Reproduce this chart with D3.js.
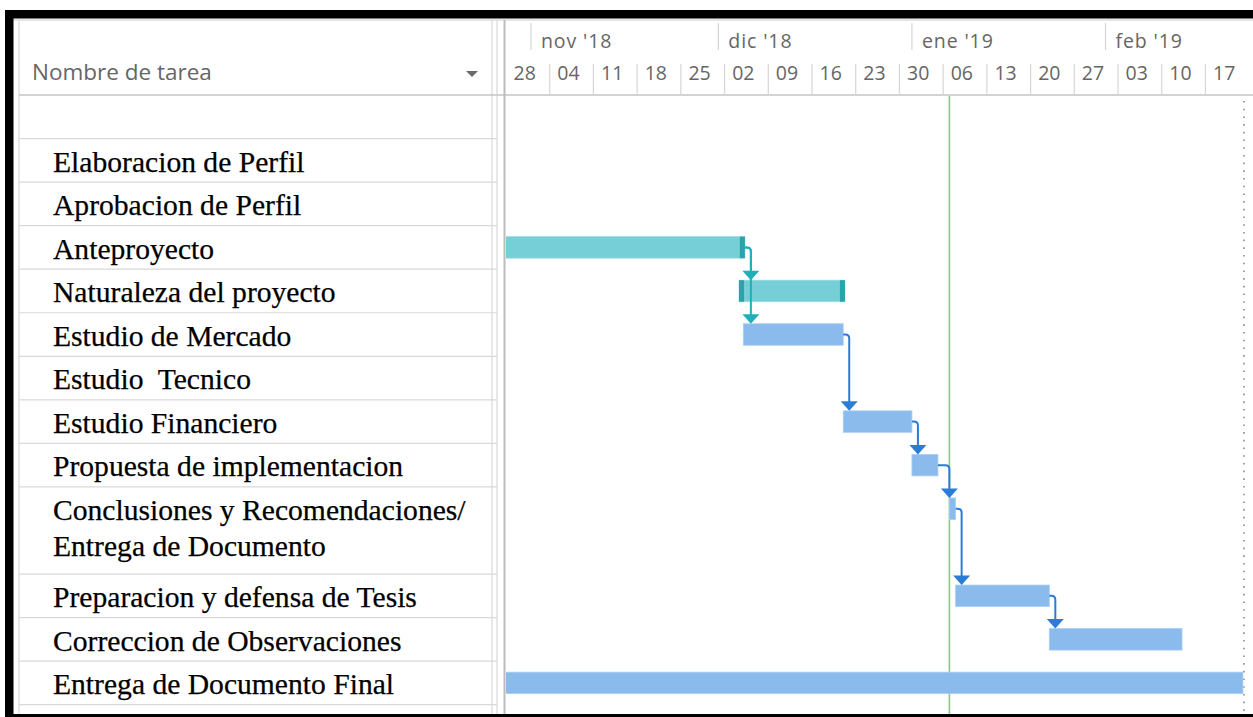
<!DOCTYPE html>
<html>
<head>
<meta charset="utf-8">
<script src="https://cdn.jsdelivr.net/npm/d3@7/dist/d3.min.js"></script>
<style>
  body { margin: 0; background: #fff; }
  svg { display: block; }
  .task { font-family: "Liberation Serif", "Times New Roman", serif; font-size: 29.6px; fill: #000; stroke: #000; stroke-width: 0.25; white-space: pre; }
  .hdr { font-family: "Open Sans", "Noto Sans", sans-serif; fill: #666; }
</style>
</head>
<body>
<svg id="gantt" width="1253" height="717"></svg>
<script>
// task table (first row of the sheet is empty)
const taskNames = [
    "",
    "Elaboracion de Perfil",
    "Aprobacion de Perfil",
    "Anteproyecto",
    "Naturaleza del proyecto",
    "Estudio de Mercado",
    "Estudio  Tecnico",
    "Estudio Financiero",
    "Propuesta de implementacion",
    "Conclusiones y Recomendaciones/\nEntrega de Documento",
    "Preparacion y defensa de Tesis",
    "Correccion de Observaciones",
    "Entrega de Documento Final",
    ""
];
const taskStarts = [null, null, null, "2018-10-15T00:00", "2018-12-04T07:30", "2018-12-05T00:00", null,
    "2018-12-21T00:00", "2019-01-01T00:00", "2019-01-07T00:00", "2019-01-08T00:00", "2019-01-23T00:00",
    "2018-10-01T00:00", null];
const taskEnds = [null, null, null, "2018-12-05T06:00", "2018-12-21T06:30", "2018-12-21T00:00", null,
    "2019-01-01T00:00", "2019-01-05T04:00", "2019-01-08T00:00", "2019-01-23T00:00", "2019-02-13T06:00",
    "2019-02-23T00:00", null];
const taskManual = [false, false, false, true, true, false, false, false, false, false, false, false, false, false];
const rowSpans = [1, 1, 1, 1, 1, 1, 1, 1, 1, 2, 1, 1, 1, 1];

// finish-to-start links: [from, to]
const links = [[3, 4], [3, 5], [5, 7], [7, 8], [8, 9], [9, 10], [10, 11]];

const timelineStart = "2018-10-28";
const timelineEnd = "2019-02-24";
const statusDate = "2019-01-07T00:00";
const projectFinish = "2019-02-23T00:00";

const W = 1253, H = 717;
const chartLeft = 506;
const headerTop = 20, headerBottom = 95;
const rowH = 43.55;

const parse = d3.isoParse;
const svg = d3.select("#gantt");

const x = d3.scaleTime()
    .domain([parse(timelineStart), parse(timelineEnd)])
    .range([chartLeft, chartLeft + 119 * 6.245]);

// row positions from cumulative spans
const rowStart = [];
rowSpans.reduce((acc, s, i) => { rowStart[i] = acc; return acc + s; }, 0);
const y = d3.scaleLinear().domain([0, 1]).range([headerBottom, headerBottom + rowH]);

svg.append("rect").attr("x", 0).attr("y", 0).attr("width", W).attr("height", H).attr("fill", "#fff");

// ---------- left table ----------
const grid = svg.append("g").attr("stroke", "#d9d9d9").attr("stroke-width", 1.2);
rowSpans.forEach((s, i) => {
    const yy = y(rowStart[i] + s);
    grid.append("line").attr("x1", 19).attr("x2", 497).attr("y1", yy).attr("y2", yy);
});
grid.append("line").attr("x1", 19).attr("x2", 19).attr("y1", headerTop).attr("y2", H);
grid.append("line").attr("x1", 492).attr("x2", 492).attr("y1", headerTop).attr("y2", H);
grid.append("line").attr("x1", 497).attr("x2", 497).attr("y1", headerTop).attr("y2", H);

svg.append("line").attr("x1", 13).attr("x2", W).attr("y1", headerTop).attr("y2", headerTop)
    .attr("stroke", "#dcdcdc").attr("stroke-width", 1.5);
svg.append("line").attr("x1", 19).attr("x2", W).attr("y1", headerBottom).attr("y2", headerBottom)
    .attr("stroke", "#c4c4c4").attr("stroke-width", 1.5);
svg.append("line").attr("x1", 504.5).attr("x2", 504.5).attr("y1", headerTop).attr("y2", H)
    .attr("stroke", "#bcbcbc").attr("stroke-width", 2);

svg.append("text").attr("class", "hdr").attr("x", 32).attr("y", 80)
    .style("font-size", "22.5px").text("Nombre de tarea");
svg.append("path").attr("d", "M466,71 L478,71 L472,77 Z").attr("fill", "#6a6a6a");

const labels = svg.append("g");
taskNames.forEach((name, i) => {
    if (!name) return;
    const t = labels.append("text").attr("class", "task").attr("x", 53);
    name.split("\n").forEach((line, k) => {
        t.append("tspan").attr("x", 53).attr("y", y(rowStart[i]) + 33 + k * 36).text(line);
    });
});

// ---------- timescale header ----------
const months = d3.timeMonth.range(d3.timeMonth.ceil(x.domain()[0]), x.domain()[1]);
const fmtMonth = d => ["ene", "feb", "mar", "abr", "may", "jun", "jul", "ago", "sep", "oct", "nov", "dic"][d.getMonth()]
    + " '" + d3.timeFormat("%y")(d);
const mh = svg.append("g");
months.forEach(m => {
    mh.append("line").attr("x1", x(m)).attr("x2", x(m)).attr("y1", 23).attr("y2", 50)
        .attr("stroke", "#d6d6d6").attr("stroke-width", 1.2);
    mh.append("text").attr("class", "hdr").attr("x", x(m) + 10).attr("y", 48)
        .style("font-size", "19.5px").style("letter-spacing", "0.9px").text(fmtMonth(m));
});

const weeks = d3.timeSunday.range(x.domain()[0], x.domain()[1]);
const wh = svg.append("g");
weeks.forEach(w => {
    if (x(w) > chartLeft + 1) {
        wh.append("line").attr("x1", x(w)).attr("x2", x(w)).attr("y1", 64).attr("y2", headerBottom)
            .attr("stroke", "#d6d6d6").attr("stroke-width", 1.2);
    }
    wh.append("text").attr("class", "hdr").attr("x", x(d3.timeDay.offset(w, 3.5)))
        .attr("y", 80).attr("text-anchor", "middle")
        .style("font-size", "19.5px").text(d3.timeFormat("%d")(w));
});

// ---------- chart body ----------
svg.append("clipPath").attr("id", "body").append("rect")
    .attr("x", chartLeft).attr("y", headerBottom + 1).attr("width", W - chartLeft).attr("height", H - headerBottom);
const body = svg.append("g").attr("clip-path", "url(#body)");

body.append("line").attr("x1", x(parse(statusDate))).attr("x2", x(parse(statusDate)))
    .attr("y1", headerBottom).attr("y2", H).attr("stroke", "#8cc68a").attr("stroke-width", 1.6);
body.append("line").attr("x1", x(parse(projectFinish)) + 1).attr("x2", x(parse(projectFinish)) + 1)
    .attr("y1", 101).attr("y2", H).attr("stroke", "#8c8c8c").attr("stroke-width", 1.6)
    .attr("stroke-dasharray", "1.6,6.1");

const barTop = i => y(rowStart[i]) + 11;
const barH = 21.5;
const bars = body.append("g");
taskNames.forEach((n, i) => {
    if (!taskStarts[i]) return;
    const x0 = x(parse(taskStarts[i])), x1 = x(parse(taskEnds[i]));
    bars.append("rect").attr("x", x0).attr("y", barTop(i)).attr("width", x1 - x0).attr("height", barH)
        .attr("fill", taskManual[i] ? "#76ced6" : "#8abbec")
        .attr("stroke", taskManual[i] ? "#9adbe1" : "#a9cff3").attr("stroke-width", 0.8);
    if (taskManual[i]) {
        [x0, x1 - 5].forEach(cx => bars.append("rect").attr("x", cx).attr("y", barTop(i))
            .attr("width", 5).attr("height", barH).attr("fill", "#2aa4a9"));
    }
});

// links
const lk = body.append("g");
links.forEach(([a, b]) => {
    const col = taskManual[a] ? "#1fb0b9" : "#2b7cd6";
    const sx = x(parse(taskEnds[a]));
    const sy = barTop(a) + barH / 2;
    const vx = Math.max(sx + 6, x(parse(taskStarts[b])));
    const ty = barTop(b);
    lk.append("path")
        .attr("d", `M${sx},${sy} H${vx - 4} Q${vx},${sy} ${vx},${sy + 4} V${ty - 6}`)
        .attr("fill", "none").attr("stroke", col).attr("stroke-width", 2);
    lk.append("path")
        .attr("d", `M${vx - 8.5},${ty - 9.5} L${vx + 8.5},${ty - 9.5} L${vx},${ty} Z`)
        .attr("fill", col);
});

// ---------- black screenshot frame ----------
svg.append("rect").attr("x", 5).attr("y", 10).attr("width", W - 5).attr("height", 8.5).attr("fill", "#000");
svg.append("rect").attr("x", 5).attr("y", 10).attr("width", 8.5).attr("height", H - 10).attr("fill", "#000");
svg.append("rect").attr("x", 5).attr("y", 714).attr("width", W - 5).attr("height", 3).attr("fill", "#000");
</script>
</body>
</html>
